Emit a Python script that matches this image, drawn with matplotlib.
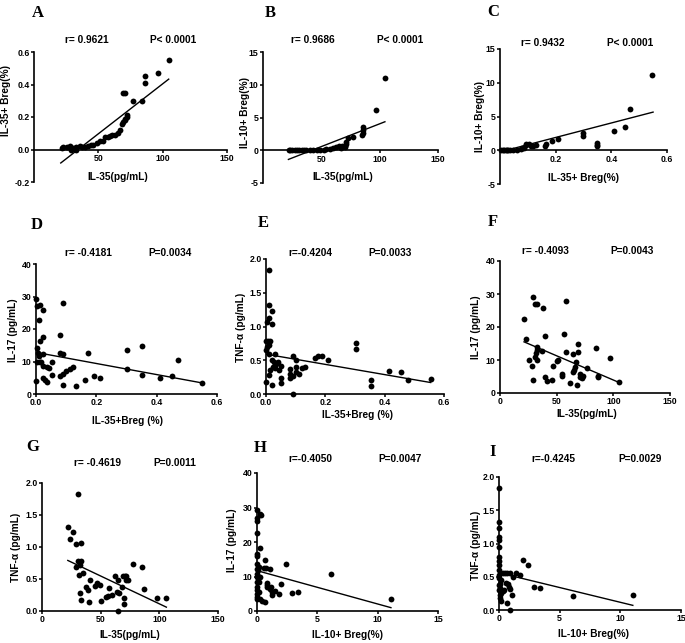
import numpy as np
import matplotlib
matplotlib.use("Agg")
import matplotlib.pyplot as plt

plt.rcParams["font.family"] = ["Liberation Sans", "DejaVu Sans"]
plt.rcParams["font.weight"] = "bold"

# DATA ############################################################

letters = ["A", "B", "C", "D", "E", "F", "G", "H", "I"]

r_texts = ["r= 0.9621", "r= 0.9686", "r= 0.9432",
           "r= -0.4181", "r=-0.4204", "r= -0.4093",
           "r= -0.4619", "r=-0.4050", "r=-0.4245"]
p_texts = ["P< 0.0001", "P< 0.0001", "P< 0.0001",
           "P=0.0034", "P=0.0033", "P=0.0043",
           "P=0.0011", "P=0.0047", "P=0.0029"]

x_labels = ["IL-35(pg/mL)", "IL-35(pg/mL)", "IL-35+ Breg(%)",
            "IL-35+Breg (%)", "IL-35+Breg (%)", "IL-35(pg/mL)",
            "IL-35(pg/mL)", "IL-10+ Breg(%)", "IL-10+ Breg(%)"]
y_labels = ["IL-35+ Breg(%)", "IL-10+ Breg(%)", "IL-10+ Breg(%)",
            "IL-17 (pg/mL)", "TNF-α (pg/mL)", "IL-17 (pg/mL)",
            "TNF-α (pg/mL)", "IL-17 (pg/mL)", "TNF-α (pg/mL)"]

# A: IL-35 vs IL-35+ Breg
A_x = [104.7, 96.4, 85.9, 85.9, 83.9, 76.6, 69.5, 71.0, 72.0, 71.0, 69.5,
       68.5, 67.0, 65.6, 63.0, 60.4, 57.8, 55.0, 54.0, 51.0, 48.7, 46.0,
       42.0, 39.6, 37.0, 35.7, 33.0, 30.5, 27.9, 25.3, 22.7, 21.4, 33.0,
       29.0, 44.0, 59.0, 70.5, 72.5]
A_y = [0.55, 0.47, 0.45, 0.41, 0.30, 0.30, 0.35, 0.35, 0.21, 0.19, 0.17,
       0.16, 0.12, 0.10, 0.09, 0.09, 0.08, 0.075, 0.055, 0.05, 0.04, 0.03,
       0.02, 0.015, 0.015, 0.02, 0.015, 0.008, 0.02, 0.015, 0.015, 0.01, 0.0,
       0.0, 0.025, 0.085, 0.18, 0.20]
A_fit_x = [20.8, 104.7]
A_fit_y = [-0.083, 0.433]

# B: IL-35 vs IL-10+ Breg
B_x = [104.5, 97.2, 86.0, 86.0, 85.5, 85.0, 76.8, 72.6, 71.5, 71.0, 70.5,
       70.0, 65.5, 62.7, 60.0, 57.0, 54.0, 48.6, 46.0, 43.0, 40.0, 37.0,
       35.0, 33.0, 31.0, 29.0, 27.0, 25.0, 23.0, 22.0, 68.0, 67.0, 52.0]
B_y = [11.1, 6.1, 3.5, 3.1, 2.7, 2.4, 2.0, 1.9, 1.3, 0.9, 0.6,
       0.5, 0.65, 0.5, 0.35, 0.25, 0.15, 0.1, 0.05, 0.0, 0.0, 0.0,
       0.0, 0.0, 0.0, 0.0, 0.0, 0.0, 0.0, 0.0, 0.7, 0.4, 0.1]
B_fit_x = [21.8, 104.5]
B_fit_y = [-1.4, 4.35]

# C: IL-35+ Breg vs IL-10+ Breg
C_x = [0.547, 0.468, 0.448, 0.408, 0.349, 0.349, 0.349, 0.298, 0.298, 0.208,
       0.188, 0.166, 0.163, 0.128, 0.113, 0.095, 0.093, 0.085, 0.080, 0.077,
       0.105, 0.047, 0.035, 0.025, 0.015, 0.005, 0.010, 0.020, 0.030, 0.060,
       0.120]
C_y = [11.2, 6.15, 3.4, 2.85, 1.1, 0.8, 0.65, 2.5, 2.1, 1.7,
       1.4, 0.9, 0.65, 0.8, 0.65, 1.0, 0.8, 0.4, 0.4, 0.15,
       0.9, 0.05, 0.02, 0.0, 0.0, 0.0, 0.0, 0.0, 0.0, 0.1,
       0.7]
C_fit_x = [0.0, 0.55]
C_fit_y = [-0.25, 5.65]

# D: IL-35+ Breg vs IL-17
D_x = [0.0, 0.002, 0.013, 0.022, 0.09, 0.011, 0.013, 0.022, 0.002, 0.079,
       0.005, 0.011, 0.022, 0.003, 0.012, 0.018, 0.08, 0.09, 0.171, 0.30,
       0.352, 0.47, 0.052, 0.024, 0.035, 0.044, 0.052, 0.024, 0.03, 0.035,
       0.0, 0.09, 0.132, 0.079, 0.09, 0.10, 0.112, 0.121, 0.162, 0.192,
       0.212, 0.30, 0.352, 0.41, 0.452, 0.551]
D_y = [29.3, 27.2, 27.4, 25.9, 27.9, 22.8, 16.2, 17.4, 14.1, 18.1,
       12.6, 11.6, 12.4, 10.0, 10.0, 10.0, 12.6, 12.3, 12.5, 13.6,
       14.8, 10.5, 10.0, 8.5, 8.3, 8.0, 5.9, 4.9, 4.4, 3.6,
       3.9, 2.9, 2.4, 5.4, 6.2, 7.0, 7.7, 8.3, 4.4, 5.4,
       4.9, 7.7, 5.9, 4.9, 5.4, 3.4]
D_fit_x = [0.0, 0.551]
D_fit_y = [12.8, 3.4]

# E: IL-35+ Breg vs TNF-a
E_x = [0.009, 0.009, 0.02, 0.009, 0.003, 0.02, 0.0, 0.006, 0.012, 0.003,
       0.01, 0.0, 0.009, 0.03, 0.0, 0.009, 0.02, 0.025, 0.03, 0.035,
       0.02, 0.04, 0.05, 0.045, 0.05, 0.05, 0.09, 0.1, 0.08, 0.08,
       0.08, 0.09, 0.1, 0.1, 0.09, 0.11, 0.12, 0.13, 0.164, 0.174,
       0.19, 0.21, 0.303, 0.303, 0.353, 0.353, 0.415, 0.455, 0.477, 0.555,
       0.015, 0.028]
E_y = [1.83, 1.32, 1.23, 1.12, 1.07, 1.04, 0.78, 0.78, 0.78, 0.70,
       0.72, 0.65, 0.60, 0.59, 0.18, 0.28, 0.14, 0.40, 0.38, 0.44,
       0.50, 0.47, 0.41, 0.36, 0.23, 0.16, 0.57, 0.50, 0.37, 0.30,
       0.23, 0.0, 0.40, 0.33, 0.26, 0.29, 0.38, 0.40, 0.53, 0.56,
       0.56, 0.50, 0.75, 0.67, 0.21, 0.12, 0.34, 0.33, 0.21, 0.22,
       0.36, 0.48]
E_fit_x = [0.0, 0.555]
E_fit_y = [0.59, 0.17]

# F: IL-35 vs IL-17
F_x = [21.2, 23.0, 29.4, 31.0, 33.0, 37.6, 58.2, 39.7, 56.5, 33.0,
       33.0, 32.0, 31.0, 36.8, 25.3, 33.0, 28.0, 28.8, 39.7, 41.8,
       45.6, 47.0, 50.0, 51.5, 54.4, 54.4, 58.2, 61.8, 64.0, 67.0,
       66.0, 65.0, 64.0, 68.2, 69.0, 69.0, 70.6, 71.0, 72.0, 73.0,
       76.5, 84.4, 86.2, 86.2, 97.0, 105.0]
F_y = [22.5, 16.3, 29.1, 27.1, 27.0, 25.7, 27.9, 17.4, 18.0, 14.0,
       13.0, 12.0, 11.0, 12.6, 10.0, 10.0, 8.2, 4.0, 5.0, 3.5,
       4.0, 8.2, 9.8, 10.0, 5.8, 5.3, 12.4, 3.0, 11.9, 9.5,
       8.0, 7.0, 6.4, 2.5, 12.3, 14.9, 5.8, 5.0, 4.5, 5.3,
       7.7, 13.7, 5.3, 4.7, 10.6, 3.4]
F_fit_x = [21.2, 105.0]
F_fit_y = [15.5, 3.2]

# G: IL-35 vs TNF-a
G_x = [31.1, 22.0, 26.3, 23.5, 29.2, 33.4, 30.5, 33.5, 29.2, 32.0,
       31.4, 34.8, 32.5, 33.4, 37.6, 38.8, 40.5, 39.9, 45.3, 46.7,
       49.5, 50.0, 54.6, 56.6, 57.5, 59.7, 62.3, 65.1, 64.3, 66.0,
       65.1, 68.2, 69.3, 70.8, 71.6, 70.2, 69.9, 72.0, 73.6, 77.3,
       84.9, 86.9, 98.2, 105.3]
G_y = [1.83, 1.31, 1.23, 1.12, 1.04, 1.06, 0.78, 0.78, 0.69, 0.72,
       0.56, 0.59, 0.28, 0.17, 0.38, 0.33, 0.48, 0.14, 0.39, 0.44,
       0.41, 0.15, 0.22, 0.24, 0.36, 0.25, 0.55, 0.49, 0.30, 0.28,
       0.0, 0.38, 0.54, 0.55, 0.54, 0.20, 0.11, 0.48, 0.48, 0.74,
       0.68, 0.34, 0.21, 0.21]
G_fit_x = [22.0, 106.0]
G_fit_y = [0.79, 0.06]

# H: IL-10+ Breg vs IL-17
H_x = [0.0, 0.22, 0.33, 0.0, 0.0, 0.0, 0.22, 0.0, 0.0, 0.0,
       0.0, 0.0, 0.0, 0.0, 0.0, 0.0, 0.0, 0.0, 0.0, 0.2,
       0.25, 0.2, 0.55, 0.77, 1.1, 0.63, 0.8, 0.8, 0.87, 1.15,
       1.1, 1.25, 1.25, 1.5, 1.8, 0.28, 0.4, 0.63, 2.0, 2.4,
       2.9, 3.4, 6.1, 11.1, 0.15, 0.1]
H_y = [29.2, 28.2, 27.8, 27.0, 26.0, 22.7, 18.3, 16.6, 15.8, 13.5,
       12.3, 10.8, 10.0, 8.5, 7.0, 6.0, 5.0, 4.0, 3.5, 12.7,
       9.8, 8.3, 12.5, 12.5, 12.2, 14.8, 8.0, 7.4, 6.9, 6.9,
       6.4, 5.4, 4.5, 5.9, 4.9, 3.5, 3.0, 2.5, 7.8, 13.7,
       5.1, 5.5, 10.6, 3.5, 5.5, 12.0]
H_fit_x = [0.0, 11.1]
H_fit_y = [11.7, 0.97]

# I: IL-10+ Breg vs TNF-a
I_x = [0.0, 0.0, 0.0, 0.0, 0.0, 0.0, 0.0, 0.0, 0.0, 0.0,
       0.0, 0.0, 0.1, 0.05, 0.2, 0.05, 0.2, 0.3, 0.5, 0.7,
       0.9, 1.15, 0.75, 0.83, 0.9, 0.66, 0.94, 1.1, 1.43, 1.7,
       1.98, 2.4, 2.9, 3.36, 6.07, 11.03, 0.3, 0.45, 0.6, 0.15,
       0.1, 0.0, 0.0]
I_y = [1.83, 1.33, 1.23, 1.10, 1.05, 0.95, 0.79, 0.73, 0.68, 0.60,
       0.53, 0.48, 0.39, 0.33, 0.25, 0.18, 0.14, 0.55, 0.56, 0.56,
       0.56, 0.50, 0.39, 0.35, 0.31, 0.11, 0.0, 0.22, 0.56, 0.52,
       0.75, 0.67, 0.34, 0.33, 0.21, 0.22, 0.28, 0.30, 0.40, 0.45,
       0.22, 0.38, 0.30]
I_fit_x = [0.0, 11.03]
I_fit_y = [0.56, 0.07]

all_x = [A_x, B_x, C_x, D_x, E_x, F_x, G_x, H_x, I_x]
all_y = [A_y, B_y, C_y, D_y, E_y, F_y, G_y, H_y, I_y]
fit_x = [A_fit_x, B_fit_x, C_fit_x, D_fit_x, E_fit_x, F_fit_x, G_fit_x, H_fit_x, I_fit_x]
fit_y = [A_fit_y, B_fit_y, C_fit_y, D_fit_y, E_fit_y, F_fit_y, G_fit_y, H_fit_y, I_fit_y]

# AXES SETTINGS ###################################################

x_limits = [(0, 150), (0, 150), (0, 0.6), (0, 0.6), (0, 0.6),
            (0, 150), (0, 150), (0, 15), (0, 15)]
y_limits = [(-0.2, 0.6), (-5, 15), (-5, 15), (0, 40), (0, 2),
            (0, 40), (0, 2), (0, 40), (0, 2)]
x_ticks = [[50, 100, 150], [50, 100, 150], [0.2, 0.4, 0.6],
           [0, 0.2, 0.4, 0.6], [0, 0.2, 0.4, 0.6], [0, 50, 100, 150],
           [0, 50, 100, 150], [0, 5, 10, 15], [0, 5, 10, 15]]
y_ticks = [[-0.2, 0, 0.2, 0.4, 0.6], [-5, 0, 5, 10, 15], [-5, 0, 5, 10, 15],
           [0, 10, 20, 30, 40], [0, 0.5, 1.0, 1.5, 2.0], [0, 10, 20, 30, 40],
           [0, 0.5, 1.0, 1.5, 2.0], [0, 10, 20, 30, 40], [0, 0.5, 1.0, 1.5, 2.0]]
x_fmt = ["%g", "%g", "%.1f", "%.1f", "%.1f", "%g", "%g", "%g", "%g"]
y_fmt = ["%.1f", "%g", "%g", "%g", "%.1f", "%g", "%.1f", "%g", "%.1f"]

# pixel layout: axes box (left, top, right, bottom)
boxes = [(34, 52, 227, 182), (263, 52, 438, 183), (500, 49, 667, 184),
         (36, 264, 217, 394), (266, 259, 444, 394), (500, 261, 670, 393),
         (42, 483, 218, 611), (257, 473, 438, 611), (499, 477, 681, 610)]
letter_pos = [(38, 13), (270, 13), (493, 12), (37, 225), (263, 223),
              (493, 222), (33, 447), (260, 448), (493, 452)]
r_pos = [(87, 40), (313, 40), (543, 43), (88, 253), (310, 253),
         (545, 251), (97, 463), (310, 459), (553, 459)]
p_pos = [(173, 40), (400, 40), (630, 43), (170, 253), (390, 253),
         (632, 251), (175, 463), (400, 459), (640, 459)]
xlab_pos = [(118, 177), (343, 177), (583, 178), (127, 421), (357, 415),
            (587, 414), (130, 635), (348, 635), (593, 634)]
ylab_pos = [(6, 100), (245, 113), (480, 117), (13, 330), (241, 327),
            (476, 327), (16, 547), (232, 540), (476, 545)]

W, H = 685, 643

fig = plt.figure(figsize=(W / 100, H / 100), dpi=100)


def fx(x):
    return x / W


def fy(y):
    return 1 - y / H


for i in range(9):
    l, t, r, b = boxes[i]
    ax = fig.add_axes([fx(l), fy(b), (r - l) / W, (b - t) / H])

    ax.plot(fit_x[i], fit_y[i], color="black", linewidth=1.0, zorder=3)
    ax.plot(all_x[i], all_y[i], "o", color="black", markersize=4.2,
            markeredgewidth=0, clip_on=False, zorder=4)

    ax.set_xlim(*x_limits[i])
    ax.set_ylim(*y_limits[i])
    ax.set_xticks(x_ticks[i])
    ax.set_yticks(y_ticks[i])
    ax.set_xticklabels([x_fmt[i] % v for v in x_ticks[i]])
    ax.set_yticklabels([y_fmt[i] % v for v in y_ticks[i]])

    for side in ["top", "right"]:
        ax.spines[side].set_visible(False)
    for side in ["left", "bottom"]:
        ax.spines[side].set_linewidth(1.2)
    if y_limits[i][0] < 0:
        ax.spines["bottom"].set_position(("data", 0))

    ax.tick_params(direction="out", length=2.2, width=1.1, labelsize=6.3,
                   pad=1.0)
    for lab in ax.get_xticklabels() + ax.get_yticklabels():
        lab.set_fontweight("bold")
    ax.patch.set_alpha(0)

    fig.text(fx(letter_pos[i][0]), fy(letter_pos[i][1]), letters[i],
             family="Liberation Serif", fontweight="bold", fontsize=12,
             ha="center", va="center")
    fig.text(fx(r_pos[i][0]), fy(r_pos[i][1]), r_texts[i],
             fontsize=7.3, fontweight="bold", ha="center", va="center")
    fig.text(fx(p_pos[i][0]), fy(p_pos[i][1]), p_texts[i],
             fontsize=7.3, fontweight="bold", ha="center", va="center")
    fig.text(fx(xlab_pos[i][0]), fy(xlab_pos[i][1]), x_labels[i],
             fontsize=7.3, fontweight="bold", ha="center", va="center")
    fig.text(fx(ylab_pos[i][0]), fy(ylab_pos[i][1]), y_labels[i],
             fontsize=7.3, fontweight="bold", ha="center", va="center",
             rotation=90)

fig.savefig("out.png", dpi=100)
